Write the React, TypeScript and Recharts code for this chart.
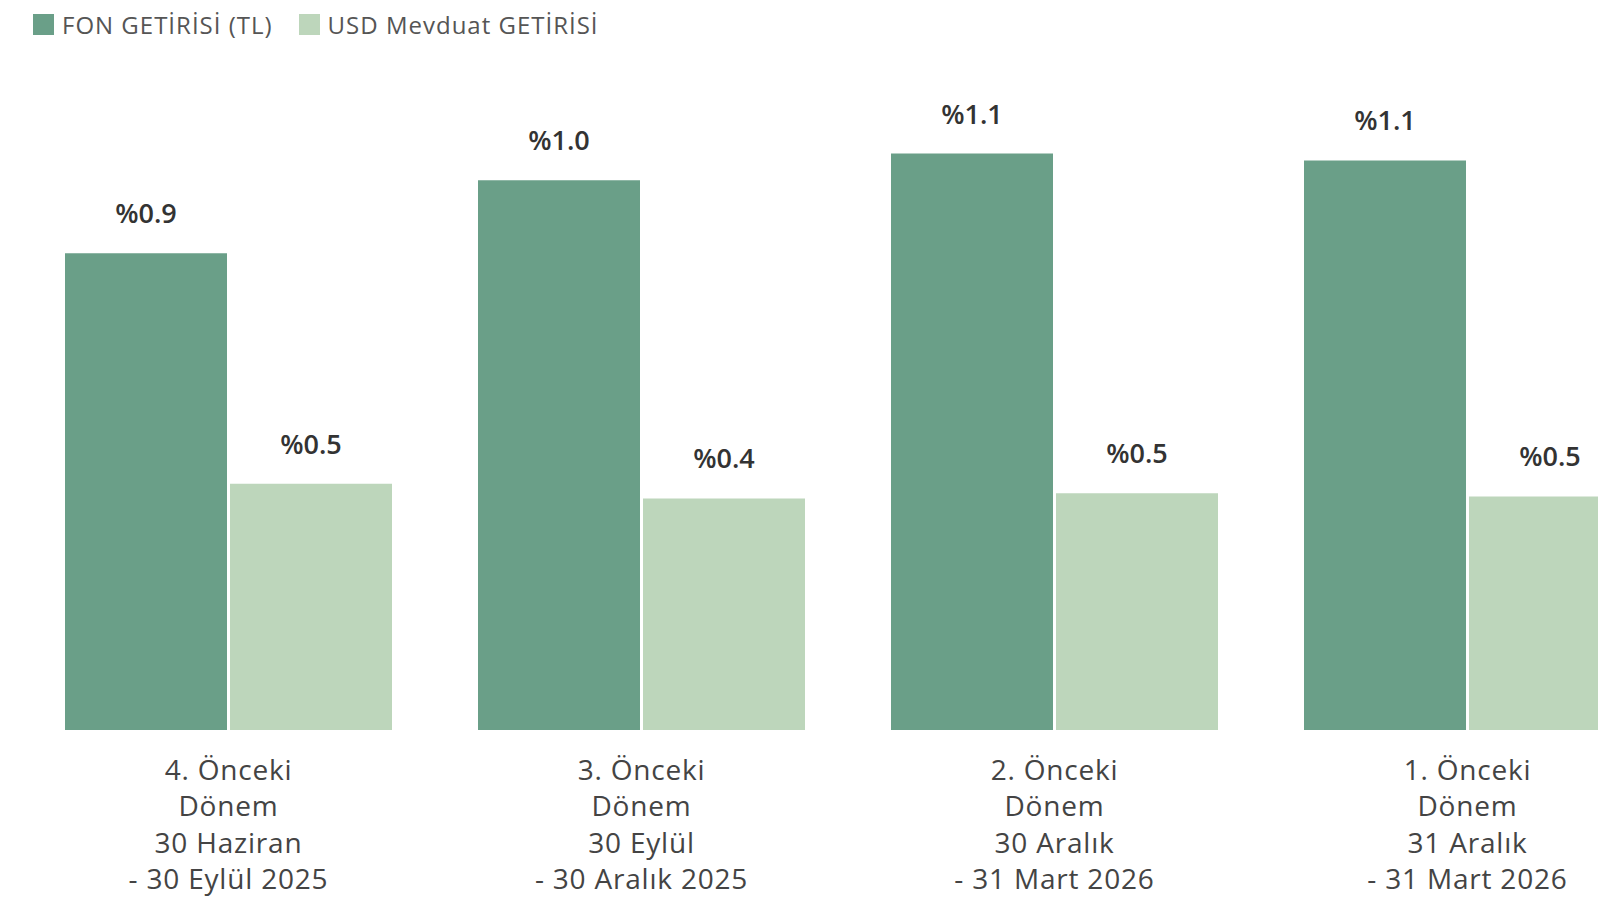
import { Bar, BarChart, LabelList, XAxis, YAxis } from "recharts";

const periods = [
  "4. Önceki\nDönem\n30 Haziran\n- 30 Eylül 2025",
  "3. Önceki\nDönem\n30 Eylül\n- 30 Aralık 2025",
  "2. Önceki\nDönem\n30 Aralık\n- 31 Mart 2026",
  "1. Önceki\nDönem\n31 Aralık\n- 31 Mart 2026",
];
const fonGetirisi = [0.908, 1.047, 1.098, 1.085];
const usdGetirisi = [0.469, 0.441, 0.451, 0.445];
const fonLabels = ["%0.9", "%1.0", "%1.1", "%1.1"];
const usdLabels = ["%0.5", "%0.4", "%0.5", "%0.5"];

const DARK = "#6a9f88";
const LIGHT = "#bdd6bb";
const FONT = "'Open Sans', sans-serif";

const data = periods.map((period, i) => ({
  period,
  fon: fonGetirisi[i],
  usd: usdGetirisi[i],
  fonLabel: fonLabels[i],
  usdLabel: usdLabels[i],
}));

const LABEL_STYLE = { fontSize: 27, fontWeight: 600, fill: "#333333", fontFamily: FONT };

function PeriodTick({ x, y, payload }: any) {
  const lines = String(payload.value).split("\n");
  return (
    <text x={x} y={y} textAnchor="middle" fill="#444444" fontSize={28} fontFamily={FONT} letterSpacing={0.8}>
      {lines.map((line, i) => (
        <tspan key={i} x={x} dy={i === 0 ? 42 : 36.4}>
          {line}
        </tspan>
      ))}
    </text>
  );
}

function LegendItem({ color, text }: { color: string; text: string }) {
  return (
    <div style={{ display: "flex", alignItems: "center", marginRight: 26 }}>
      <div style={{ width: 21, height: 21, background: color, marginRight: 8 }} />
      <span style={{ fontSize: 24, color: "#555555", fontFamily: FONT, letterSpacing: 1 }}>{text}</span>
    </div>
  );
}

export default function App() {
  return (
    <div
      style={{
        position: "fixed",
        top: 0,
        left: 0,
        width: 1598,
        height: 900,
        overflow: "hidden",
        background: "#fff",
      }}
    >
      <div style={{ position: "absolute", top: 8, left: 33, display: "flex", zIndex: 1 }}>
        <LegendItem color={DARK} text="FON GETİRİSİ (TL)" />
        <LegendItem color={LIGHT} text="USD Mevduat GETİRİSİ" />
      </div>
      <BarChart
        width={1710}
        height={900}
        data={data}
        margin={{ top: 100, right: 36, bottom: 0, left: 22 }}
        barSize={162}
        barGap={3}
      >
        <XAxis
          dataKey="period"
          axisLine={false}
          tickLine={false}
          interval={0}
          height={170}
          tick={<PeriodTick />}
        />
        <YAxis hide domain={[0, 1.2]} />
        <Bar dataKey="fon" name="FON GETİRİSİ (TL)" fill={DARK} isAnimationActive={false}>
          <LabelList dataKey="fonLabel" position="top" offset={30} style={LABEL_STYLE} />
        </Bar>
        <Bar dataKey="usd" name="USD Mevduat GETİRİSİ" fill={LIGHT} isAnimationActive={false}>
          <LabelList dataKey="usdLabel" position="top" offset={30} style={LABEL_STYLE} />
        </Bar>
      </BarChart>
    </div>
  );
}
